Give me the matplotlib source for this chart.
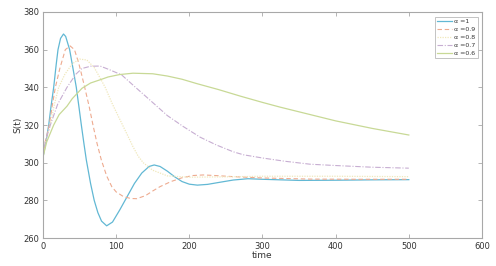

# plot.py
# S(t) for different fractional orders alpha

#importing libaries
import numpy as np
import matplotlib.pyplot as plt

#values (time, S(t)) for each alpha
t_a10 = [0, 4, 7.8, 11, 14.6, 18, 20.5, 24, 28, 31, 36.4, 41, 45.5, 49, 52.4, 56, 59.2, 65, 70, 75, 80, 87, 95, 105, 115, 125, 135, 145, 152, 160, 170, 180, 190, 200, 211, 225, 240, 260, 280, 300, 350, 400, 450, 500]
s_a10 = [303, 311, 320, 330, 340, 352, 360, 366, 368.3, 367, 360, 350, 340, 330, 320, 310, 301.5, 289, 280, 273.5, 269, 266.5, 268.5, 275, 282, 289, 294.5, 298, 298.8, 298, 295.5, 292.5, 290, 288.6, 288.1, 288.5, 289.5, 290.8, 291.5, 291.2, 290.6, 290.7, 290.9, 291]

t_a09 = [0, 3, 8.6, 12.5, 16.9, 23, 30.5, 37, 43, 48.7, 52, 57, 63, 68.3, 74, 79.7, 87, 94, 100, 110, 120, 128, 140, 150, 160, 175, 190, 205, 219, 235, 260, 300, 365, 430, 500]
s_a09 = [303, 311, 320, 330, 340, 350, 360, 362, 360, 353, 348, 340, 330, 320, 310, 301.5, 293, 287.3, 284.5, 282, 281, 280.9, 282.5, 285, 287.3, 290, 292, 293.2, 293.5, 293.2, 292.6, 291.9, 291.3, 291.2, 291.2]

t_a08 = [0, 4, 10, 15, 21.4, 30, 40, 50, 60, 70, 78, 85, 95, 105, 115, 123, 130, 137, 150, 170, 200, 250, 300, 400, 500]
s_a08 = [303, 312, 320, 330, 340, 347, 352.5, 355, 354.5, 350.5, 345, 340, 331, 323, 315, 308.5, 303.5, 300, 296, 293, 292.3, 292.5, 292.8, 292.8, 292.6]

t_a07 = [0, 3, 10, 20, 32.8, 45, 53.3, 65, 78, 90, 107.5, 125, 146, 170, 191.7, 215, 237, 260, 274, 300, 330, 365, 400, 450, 500]
s_a07 = [303, 311, 320, 331, 340, 347, 350, 351.2, 351.3, 349.5, 346.6, 340.5, 333.3, 325, 319.2, 313.5, 309.4, 305.8, 304.2, 302.5, 300.8, 299.2, 298.5, 297.6, 297.1]

t_a06 = [0, 5, 14.6, 22, 32.8, 40, 53.3, 65, 78, 89, 105, 123, 150, 170, 190, 210, 240, 270, 300, 324, 350, 400, 450, 500]
s_a06 = [303, 311, 320, 325.5, 330, 334, 339.5, 342.3, 344, 345.5, 346.8, 347.5, 347.2, 346, 344.3, 342, 338.8, 335.3, 332, 329.5, 327, 322.2, 318.2, 314.7]

labels = ['\u03b1 =1', '\u03b1 =0.9', '\u03b1 =0.8', '\u03b1 =0.7', '\u03b1 =0.6']

###################### PLOT ######################
fig = plt.figure(figsize=(4.96, 2.66), dpi=100)
ax = fig.add_axes([0.0867, 0.105, 0.885, 0.85])

ax.plot(t_a10, s_a10, color='#62b8d4', lw=0.9, linestyle='-', label=labels[0])
ax.plot(t_a09, s_a09, color='#eeab90', lw=0.8, linestyle=(0, (4, 2.5)), label=labels[1])
ax.plot(t_a08, s_a08, color='#f0e8bc', lw=0.9, linestyle=(0, (1, 1)), label=labels[2])
ax.plot(t_a07, s_a07, color='#c7aed2', lw=0.8, linestyle=(0, (5, 1.5, 1, 1.5)), label=labels[3])
ax.plot(t_a06, s_a06, color='#c8d996', lw=0.9, linestyle='-', label=labels[4])

ax.set_xlim(0, 600)
ax.set_ylim(260, 380)
ax.set_xticks([0, 100, 200, 300, 400, 500, 600])
ax.set_yticks([260, 280, 300, 320, 340, 360, 380])

# matlab style box with ticks on every side
for sp in ax.spines.values():
    sp.set_color('#a8a8a8')
    sp.set_linewidth(0.8)
ax.tick_params(direction='in', length=3, width=0.6, color='#a8a8a8', labelsize=6, labelcolor='#333333',
               top=True, right=True, pad=3)

ax.set_xlabel('time', fontsize=6.5, color='#333333', labelpad=0)
ax.set_ylabel('S(t)', fontsize=6.5, color='#333333', labelpad=0)

leg = ax.legend(loc='upper right', fontsize=4.5, frameon=True, fancybox=False,
                handlelength=2.4, handletextpad=0.3, borderpad=0.35, labelspacing=0.42,
                borderaxespad=0, bbox_to_anchor=(0.99, 0.979))
leg.get_frame().set_edgecolor('#a8a8a8')
leg.get_frame().set_linewidth(0.6)
for txt in leg.get_texts():
    txt.set_color('#333333')

plt.savefig('out.png', dpi=100)
